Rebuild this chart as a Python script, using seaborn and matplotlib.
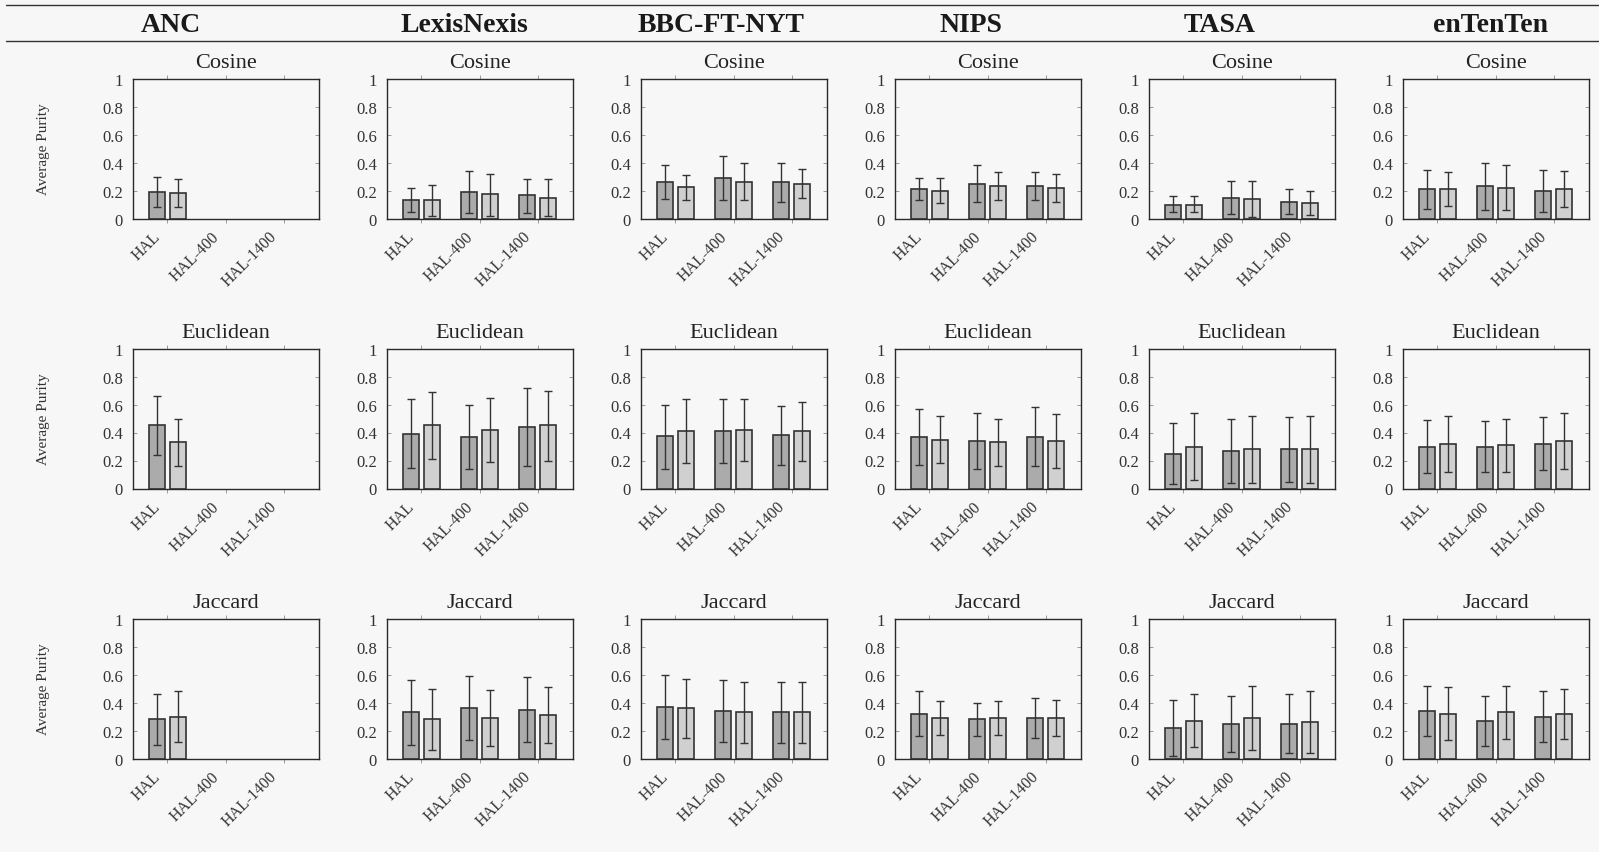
import numpy as np
import pandas as pd
import matplotlib
matplotlib.use("Agg")
import matplotlib.pyplot as plt
import seaborn as sns
from matplotlib.lines import Line2D
from matplotlib.container import BarContainer

# ---------------- data ----------------
CORPORA = ["ANC", "LexisNexis", "BBC-FT-NYT", "NIPS", "TASA", "enTenTen"]
METRICS = ["Cosine", "Euclidean", "Jaccard"]
MODELS = ["HAL", "HAL-400", "HAL-1400"]
SERIES = ["first", "second"]

# rows = corpus (CORPORA order), cols = model (MODELS order); None = not reported
COS_1 = [[0.19, None, None], [0.13, 0.19, 0.165], [0.26, 0.29, 0.26],
         [0.21, 0.25, 0.23], [0.10, 0.15, 0.12], [0.21, 0.23, 0.20]]
COS_1_LO = [[0.08, None, None], [0.045, 0.04, 0.04], [0.14, 0.135, 0.12],
            [0.13, 0.12, 0.13], [0.045, 0.033, 0.035], [0.07, 0.06, 0.05]]
COS_1_HI = [[0.30, None, None], [0.22, 0.34, 0.28], [0.38, 0.45, 0.40],
            [0.29, 0.38, 0.33], [0.16, 0.27, 0.21], [0.35, 0.40, 0.35]]
COS_2 = [[0.18, None, None], [0.13, 0.175, 0.15], [0.225, 0.26, 0.25],
         [0.20, 0.23, 0.22], [0.10, 0.14, 0.11], [0.21, 0.22, 0.21]]
COS_2_LO = [[0.08, None, None], [0.02, 0.02, 0.02], [0.135, 0.135, 0.15],
            [0.11, 0.13, 0.12], [0.045, 0.01, 0.025], [0.09, 0.06, 0.08]]
COS_2_HI = [[0.28, None, None], [0.24, 0.32, 0.28], [0.31, 0.395, 0.355],
            [0.29, 0.33, 0.32], [0.16, 0.27, 0.20], [0.33, 0.38, 0.34]]

EUC_1 = [[0.455, None, None], [0.39, 0.37, 0.44], [0.375, 0.41, 0.38],
         [0.37, 0.34, 0.37], [0.25, 0.27, 0.28], [0.30, 0.30, 0.32]]
EUC_1_LO = [[0.24, None, None], [0.147, 0.14, 0.16], [0.14, 0.185, 0.17],
            [0.17, 0.14, 0.16], [0.03, 0.04, 0.05], [0.11, 0.12, 0.13]]
EUC_1_HI = [[0.66, None, None], [0.64, 0.60, 0.72], [0.60, 0.64, 0.59],
            [0.57, 0.54, 0.58], [0.47, 0.50, 0.51], [0.49, 0.48, 0.51]]
EUC_2 = [[0.33, None, None], [0.455, 0.42, 0.455], [0.41, 0.42, 0.41],
         [0.35, 0.33, 0.34], [0.30, 0.28, 0.28], [0.32, 0.31, 0.34]]
EUC_2_LO = [[0.16, None, None], [0.21, 0.19, 0.20], [0.185, 0.20, 0.20],
            [0.18, 0.16, 0.15], [0.06, 0.04, 0.04], [0.12, 0.12, 0.14]]
EUC_2_HI = [[0.50, None, None], [0.69, 0.65, 0.70], [0.64, 0.64, 0.62],
            [0.52, 0.50, 0.53], [0.54, 0.52, 0.52], [0.52, 0.50, 0.54]]

JAC_1 = [[0.28, None, None], [0.33, 0.36, 0.35], [0.37, 0.34, 0.33],
         [0.32, 0.28, 0.29], [0.22, 0.25, 0.25], [0.34, 0.27, 0.30]]
JAC_1_LO = [[0.10, None, None], [0.10, 0.13, 0.12], [0.14, 0.12, 0.11],
            [0.16, 0.16, 0.15], [0.02, 0.05, 0.04], [0.16, 0.09, 0.12]]
JAC_1_HI = [[0.46, None, None], [0.56, 0.59, 0.58], [0.60, 0.56, 0.55],
            [0.48, 0.40, 0.43], [0.42, 0.45, 0.46], [0.52, 0.45, 0.48]]
JAC_2 = [[0.30, None, None], [0.28, 0.29, 0.31], [0.36, 0.33, 0.33],
         [0.29, 0.29, 0.29], [0.27, 0.29, 0.26], [0.32, 0.33, 0.32]]
JAC_2_LO = [[0.12, None, None], [0.06, 0.09, 0.11], [0.15, 0.11, 0.11],
            [0.17, 0.17, 0.16], [0.08, 0.06, 0.04], [0.13, 0.14, 0.14]]
JAC_2_HI = [[0.48, None, None], [0.50, 0.49, 0.51], [0.57, 0.55, 0.55],
            [0.41, 0.41, 0.42], [0.46, 0.52, 0.48], [0.51, 0.52, 0.50]]

TABLES = {
    "Cosine": [(COS_1, COS_1_LO, COS_1_HI), (COS_2, COS_2_LO, COS_2_HI)],
    "Euclidean": [(EUC_1, EUC_1_LO, EUC_1_HI), (EUC_2, EUC_2_LO, EUC_2_HI)],
    "Jaccard": [(JAC_1, JAC_1_LO, JAC_1_HI), (JAC_2, JAC_2_LO, JAC_2_HI)],
}

rows = []
for metric in METRICS:
    for s_i, (vals, los, his) in enumerate(TABLES[metric]):
        for c_i, corpus in enumerate(CORPORA):
            for m_i, model in enumerate(MODELS):
                v = vals[c_i][m_i]
                if v is None:
                    continue
                rows.append(dict(metric=metric, corpus=corpus, model=model,
                                 series=SERIES[s_i], purity=v,
                                 lo=los[c_i][m_i], hi=his[c_i][m_i]))
df = pd.DataFrame(rows)

# ---------------- style ----------------
sns.set_theme(style="ticks")
BG = "#f7f7f7"
plt.rcParams["font.family"] = ["Liberation Serif", "DejaVu Serif"]
plt.rcParams["figure.facecolor"] = BG
plt.rcParams["axes.facecolor"] = BG
plt.rcParams["axes.edgecolor"] = "#2a2a2a"
plt.rcParams["axes.linewidth"] = 1.0

BAR_COLORS = ["#ababab", "#d0d0d0"]
EDGE = "#333333"

fig = plt.figure(figsize=(15.99, 8.53), dpi=100)
W, H = 1599.0, 853.0
col_left = [132.6 + 254.0 * i for i in range(6)]
ax_w = 186.0
row_top = [79.5, 349.5, 619.5]
ax_h = 140.0

header_x = [171, 464, 721, 971, 1220, 1491]

for r, metric in enumerate(METRICS):
    for c, corpus in enumerate(CORPORA):
        ax = fig.add_axes([col_left[c] / W, 1 - (row_top[r] + ax_h) / H,
                           ax_w / W, ax_h / H])
        sub = df[(df.metric == metric) & (df.corpus == corpus)]
        sns.barplot(data=sub, x="model", y="purity", hue="series",
                    order=MODELS, hue_order=SERIES, palette=BAR_COLORS,
                    width=0.72, gap=0.22, edgecolor=EDGE, linewidth=1.2,
                    errorbar=None, legend=False, ax=ax)
        bar_conts = [ct for ct in ax.containers if isinstance(ct, BarContainer)]
        for s_i, cont in enumerate(bar_conts):
            for bar in list(cont):
                xc = bar.get_x() + bar.get_width() / 2
                m_i = int(round(xc))
                rec = sub[(sub.series == SERIES[s_i]) & (sub.model == MODELS[m_i])]
                if rec.empty:
                    continue
                rec = rec.iloc[0]
                ax.errorbar(xc, rec.purity,
                            yerr=[[rec.purity - rec.lo], [rec.hi - rec.purity]],
                            fmt="none", ecolor="#333333", elinewidth=1.0,
                            capsize=2.8, capthick=1.0, zorder=5)
        ax.set_xlim(-0.6, 2.6)
        ax.set_ylim(0, 1)
        ax.set_yticks([0, 0.2, 0.4, 0.6, 0.8, 1.0])
        ax.set_yticklabels(["0", "0.2", "0.4", "0.6", "0.8", "1"], fontsize=12,
                           color="#333333")
        ax.set_xticks(range(len(MODELS)))
        ax.set_xticklabels([])
        for m_i, model in enumerate(MODELS):
            ax.annotate(model, xy=(m_i, 0), xycoords=("data", "axes fraction"),
                        xytext=(-6.5, -11), textcoords="offset points",
                        rotation=45, ha="right", va="center",
                        rotation_mode="anchor", fontsize=11.5, color="#333333",
                        annotation_clip=False)
        ax.tick_params(axis="x", direction="out", top=True, bottom=True,
                       length=3, width=0.7, color="#9a9a9a", pad=3)
        ax.tick_params(axis="y", direction="in", left=True, right=True,
                       length=3, width=0.7, color="#9a9a9a", pad=7)
        for sp in ax.spines.values():
            sp.set_visible(True)
        ax.set_xlabel("")
        if c == 0:
            ax.set_ylabel("Average Purity", fontsize=11, color="#333333")
            ax.yaxis.set_label_coords((50 - col_left[0]) / ax_w, 0.5)
        else:
            ax.set_ylabel("")
        ax.set_title(metric, fontsize=16, color="#222222", pad=8)

for x, name in zip(header_x, CORPORA):
    fig.text(x / W, 1 - 25 / H, name, ha="center", va="center",
             fontsize=20, fontweight="bold", color="#1a1a1a")

fig.add_artist(Line2D([0.004, 1.0], [1 - 5.5 / H, 1 - 5.5 / H],
                      transform=fig.transFigure, color="#333333", lw=1.0))
fig.add_artist(Line2D([0.004, 1.0], [1 - 42 / H, 1 - 42 / H],
                      transform=fig.transFigure, color="#333333", lw=1.0))

fig.savefig("out.png", dpi=100, facecolor=BG)
